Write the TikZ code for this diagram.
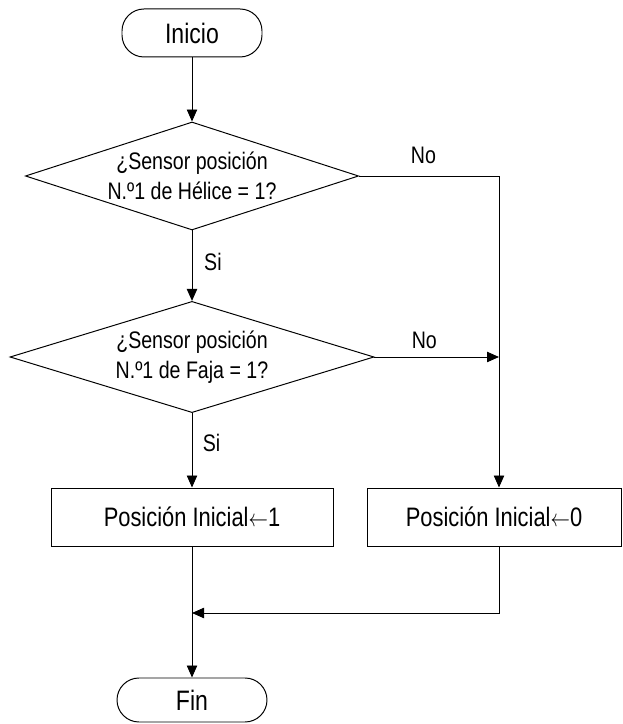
\documentclass[tikz,border=0pt]{standalone}
\usepackage{fontspec}
\setmainfont{Liberation Sans}[FakeStretch=0.82]
\usetikzlibrary{shapes.geometric,arrows.meta}

% assignment arrow, narrowed to suit the condensed text
\newcommand{\asig}{\scalebox{0.8}[1]{$\leftarrow$}}

\begin{document}
\begin{tikzpicture}[
    term/.style={rectangle, draw, rounded corners=0.55cm, minimum width=3.5cm,
                 minimum height=1.15cm, font=\fontsize{20}{24}\selectfont},
    cond/.style={diamond, draw, aspect=3, inner sep=0pt, align=center,
                 font=\fontsize{17}{21}\selectfont},
    box/.style={rectangle, draw, minimum height=1.45cm, font=\fontsize{19}{22}\selectfont},
    lbl/.style={font=\fontsize{17}{20}\selectfont},
    arrow/.style={-{Triangle[length=3mm,width=2.6mm]}},
    line width=0.7pt
]
\useasboundingbox (0,0) rectangle (15.55,18.1);

\node[term, minimum height=1.2cm] (ini) at (4.8,17.275) {Inicio};
\node[cond, minimum width=8.33cm, minimum height=2.7cm] (helice) at (4.8,13.7)
    {¿Sensor posición\\N.º1 de Hélice = 1?};
\node[cond, minimum width=9.1cm, minimum height=2.78cm] (faja) at (4.8,9.175)
    {¿Sensor posición\\N.º1 de Faja = 1?};
\node[box, minimum width=7.05cm] (pos1) at (4.8,5.175) {Posición Inicial\asig1};
\node[box, minimum width=6.35cm] (pos0) at (12.35,5.175) {Posición Inicial\asig0};
\node[term, minimum width=3.75cm, minimum height=1.1cm] (fin) at (4.8,0.6) {Fin};

% right-hand column and the join above Fin
\coordinate (col) at (12.475,13.7);
\coordinate (join) at (4.8,2.775);

\draw[arrow] (ini) -- (helice);
\draw[arrow] (helice) -- node[lbl, pos=0.45, right=5pt] {Si} (faja);
\draw[arrow] (faja) -- node[lbl, pos=0.4, right=4pt] {Si} (pos1);
\draw[arrow] (helice.east) -- node[lbl, pos=0.46, above=5pt] {No} (col) -- (col |- pos0.north);
\draw[arrow] (faja.east) -- node[lbl, pos=0.4, above=2pt] {No} (faja.east -| col);
\draw (pos1) -- (join);
\draw[arrow] (col |- pos0.south) |- (join);
\draw[arrow] (join) -- (fin);
\end{tikzpicture}
\end{document}
